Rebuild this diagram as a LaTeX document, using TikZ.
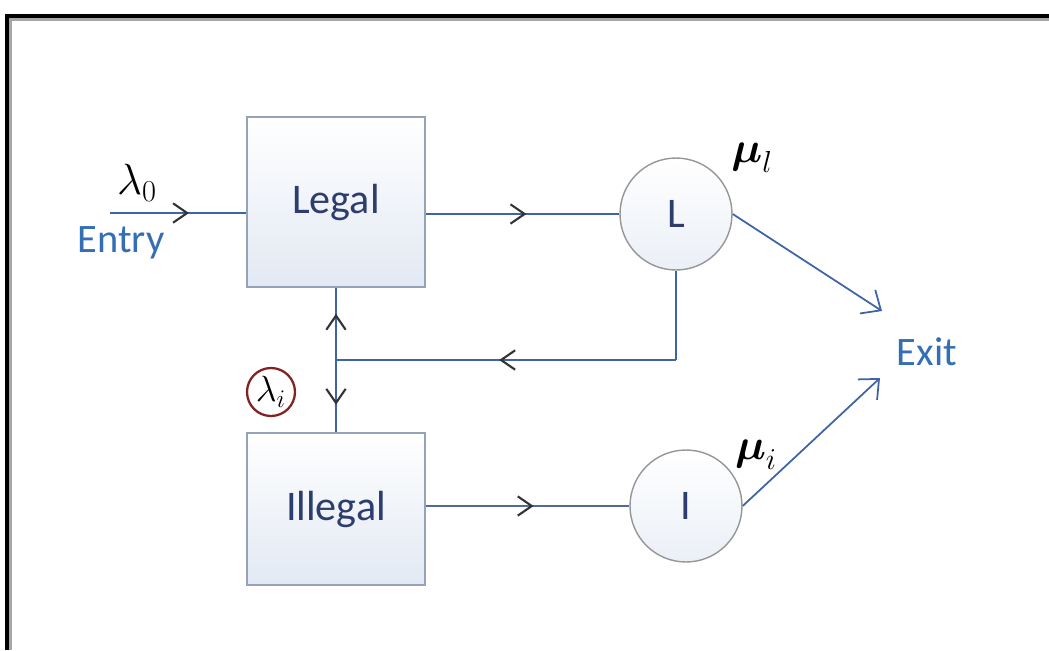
\documentclass[tikz,border=0pt]{standalone}
\usepackage{fontspec}
\usepackage{amsmath}
\setmainfont{Carlito}
\usetikzlibrary{arrows.meta,decorations.markings,shapes.geometric}
\definecolor{lineblue}{RGB}{62,100,165}
\definecolor{textblue}{RGB}{52,110,180}
\definecolor{boxtext}{RGB}{45,62,110}
\definecolor{boxedge}{RGB}{150,163,182}
\definecolor{boxfill}{RGB}{226,233,243}
\definecolor{circedge}{RGB}{150,150,150}
\definecolor{darkred}{RGB}{130,35,35}
\tikzset{
  block/.style={draw=boxedge,line width=0.9pt,top color=white,bottom color=boxfill,
    minimum width=3.56cm,inner sep=0pt,font=\fontsize{24}{26}\selectfont,text=boxtext},
  server/.style={circle,draw=circedge,line width=0.8pt,top color=white,bottom color=boxfill!70,
    minimum size=2.24cm,inner sep=0pt,font=\fontsize{24}{26}\selectfont,text=boxtext},
  conn/.style={draw=lineblue,line width=1pt},
  chev/.style={postaction={decorate},decoration={markings,
    mark=at position #1 with {\arrow[black!80,line width=1.2pt]{Straight Barb[length=8pt,width=11pt]}}}},
  outarrow/.style={conn,-{Straight Barb[length=9pt,width=16pt,line width=1pt]}},
  blue label/.style={text=textblue,font=\fontsize{23}{25}\selectfont},
  rate/.style={font=\fontsize{27}{29}\selectfont}
}
\begin{document}
\begin{tikzpicture}[x=0.02cm,y=-0.02cm]
\useasboundingbox (0,0) rectangle (1049,650);
% frame
\draw[black!35,line width=2pt] (10,650) -- (10,19) -- (1049,19);
\draw[black,line width=1.8pt] (7,650) -- (7,16) -- (1049,16);

% nodes
\node[block,minimum height=3.4cm] (legal) at (336,202) {Legal};
\node[block,minimum height=3.04cm] (illegal) at (336,509) {Illegal};
\node[server] (L) at (676,214) {L};
\node[server] (I) at (686,506) {I};
\node[blue label] (exit) at (927,352) {Exit};
\node[blue label] (entry) at (121,243) {Entry};
\coordinate (start) at (110,213);
\node[rate] (lam0) at (137,183) {$\lambda_0$};
\node[rate] (mul) at (752,158) {$\boldsymbol{\mu}_l$};
\node[rate] (mui) at (756,455) {$\boldsymbol{\mu}_i$};
\node[circle,draw=darkred,line width=1.3pt,minimum size=0.96cm,inner sep=0pt,
  font=\fontsize{20}{22}\selectfont] (lami) at (271,392) {$\lambda_i$};
\coordinate (corner) at (L.south |- 0,360);
\coordinate (junc) at (336,360);
\coordinate (exitL) at (882,311);
\coordinate (exitI) at (880,378);

% connectors
\draw[conn,chev=0.58] (start) -- (start -| legal.west);
\draw[conn,chev=0.52] (legal.east |- L.west) -- (L.west);
\draw[conn] (L.south) -- (corner);
\draw[conn,chev=0.52] (corner) -- (junc);
\draw[conn,chev=0.64] (junc) -- (legal.south);
\draw[conn,chev=0.62] (junc) -- (illegal.north);
\draw[conn,draw=lineblue!70!gray,chev=0.53] (illegal.east |- I.west) -- (I.west);
\draw[outarrow] (L.east) -- (exitL);
\draw[outarrow] (I.east) -- (exitI);
\end{tikzpicture}
\end{document}
